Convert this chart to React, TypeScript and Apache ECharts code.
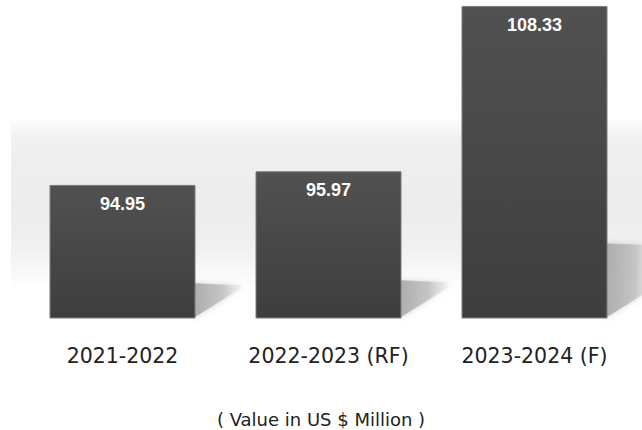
import React, { useEffect, useRef } from "react";
import * as echarts from "echarts";

const categories = ["2021-2022", "2022-2023 (RF)", "2023-2024 (F)"];
const values = [94.95, 95.97, 108.33];
const axisMin = 85;
const axisMax = 108.4;
const unitLabel = "( Value in US $ Million )";

export default function App() {
  const ref = useRef<HTMLDivElement>(null);
  useEffect(() => {
    if (!ref.current) return;
    const chart = echarts.init(ref.current, null, { renderer: "svg" });
    const halfBar = 73;
    chart.setOption({
      animation: false,
      backgroundColor: "#ffffff",
      grid: { left: 19.5, right: 4.5, top: 5, bottom: 112 },
      graphic: [
        {
          type: "rect",
          z: -10,
          silent: true,
          shape: { x: 11, y: 118, width: 631, height: 172 },
          style: {
            fill: new echarts.graphic.LinearGradient(0, 0, 0, 1, [
              { offset: 0, color: "#ffffff" },
              { offset: 0.12, color: "#f0f0f0" },
              { offset: 0.5, color: "#ececec" },
              { offset: 0.75, color: "#f0f0f0" },
              { offset: 1, color: "#ffffff" },
            ]),
          },
        },
        {
          type: "text",
          x: 321,
          y: 419,
          style: {
            text: unitLabel,
            fill: "#222222",
            font: "18px 'DejaVu Sans'",
            textAlign: "center",
            textVerticalAlign: "middle",
          },
        },
      ],
      xAxis: {
        type: "category",
        data: categories,
        axisLine: { show: false },
        axisTick: { show: false },
        axisLabel: {
          interval: 0,
          hideOverlap: false,
          margin: 27,
          fontSize: 20.5,
          fontFamily: "DejaVu Sans",
          color: "#222222",
        },
      },
      yAxis: {
        type: "value",
        min: axisMin,
        max: axisMax,
        show: false,
        splitLine: { show: false },
      },
      series: [
        {
          type: "custom",
          z: 1,
          clip: false,
          silent: true,
          data: values.map((v, i) => [i, v]),
          encode: { x: 0, y: 1 },
          renderItem: (params: any, api: any) => {
            const idx = api.value(0);
            const v = api.value(1);
            const top = api.coord([idx, v]);
            const base = api.coord([idx, axisMin]);
            const h = base[1] - top[1];
            const xR = base[0] + halfBar;
            const bottom = base[1];
            const sh = 5 + 0.2235 * h;
            const d = 46;
            const topS = bottom - sh;
            const diagTop = Math.max(bottom - d * 0.65, topS);
            return {
              type: "polygon",
              shape: {
                points: [
                  [xR - 2, bottom],
                  [xR + d, diagTop],
                  [xR + d, topS + 2],
                  [xR - 2, topS],
                ],
              },
              style: {
                fill: new echarts.graphic.LinearGradient(0, 0, 1, 0, [
                  { offset: 0, color: "rgba(170,170,170,0.95)" },
                  { offset: 0.6, color: "rgba(190,190,190,0.8)" },
                  { offset: 1, color: "rgba(225,225,225,0.3)" },
                ]),
                shadowBlur: 6,
                shadowColor: "rgba(180,180,180,0.6)",
              },
            };
          },
        },
        {
          type: "bar",
          z: 2,
          barWidth: 146,
          data: values,
          itemStyle: {
            color: new echarts.graphic.LinearGradient(0, 0, 0, 1, [
              { offset: 0, color: "#515151" },
              { offset: 1, color: "#3e3e3e" },
            ]),
            borderColor: "#7d7d7d",
            borderWidth: 1,
          },
          label: {
            show: true,
            position: "insideTop",
            distance: 10,
            color: "#ffffff",
            fontWeight: "bold",
            fontSize: 18,
            fontFamily: "Liberation Sans, Arial, sans-serif",
            formatter: (p: any) => p.value.toFixed(2),
          },
        },
      ],
    });
    return () => chart.dispose();
  }, []);
  return (
    <div
      ref={ref}
      style={{ position: "absolute", left: 0, top: 0, width: 642, height: 430 }}
    />
  );
}
